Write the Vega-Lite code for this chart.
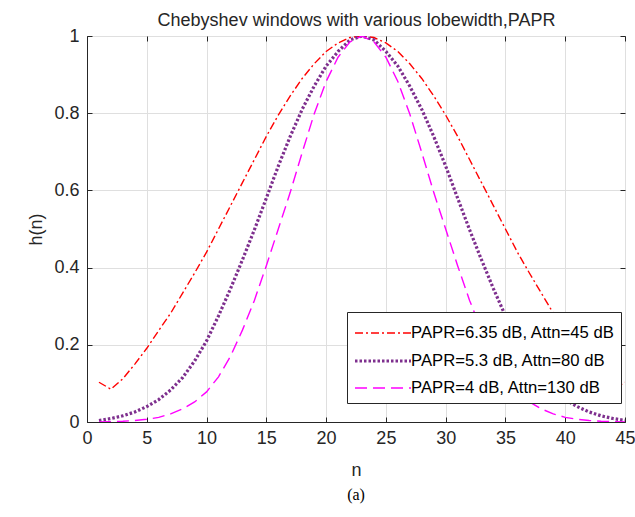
{
  "$schema": "https://vega.github.io/schema/vega-lite/v6.json",
  "width": 538,
  "height": 386,
  "autosize": {"type": "none"},
  "padding": {"left": 87, "top": 36, "right": 10, "bottom": 95},
  "background": "white",
  "title": {"text": "(a)", "orient": "bottom", "font": "Liberation Serif", "fontSize": 16, "fontWeight": "normal", "color": "#000000", "offset": 8},
  "config": {
    "view": {"stroke": "#262626", "strokeWidth": 1},
    "axis": {
      "labelFont": "Liberation Sans",
      "labelFontSize": 18,
      "labelColor": "#262626",
      "titleFont": "Liberation Sans",
      "titleFontSize": 18,
      "titleFontWeight": "normal",
      "titleColor": "#262626",
      "domainColor": "#262626",
      "tickColor": "#262626",
      "tickSize": -5,
      "gridColor": "#dfdfdf",
      "gridWidth": 1
    },
    "legend": {
      "labelFont": "Liberation Sans",
      "labelFontSize": 16.7,
      "labelColor": "#000000",
      "labelLimit": 400
    }
  },
  "data": {"values": [
    {"n":1,"h":0.103,"s":"PAPR=6.35 dB, Attn=45 dB"},
    {"n":2,"h":0.085,"s":"PAPR=6.35 dB, Attn=45 dB"},
    {"n":3,"h":0.112,"s":"PAPR=6.35 dB, Attn=45 dB"},
    {"n":4,"h":0.150,"s":"PAPR=6.35 dB, Attn=45 dB"},
    {"n":5,"h":0.191,"s":"PAPR=6.35 dB, Attn=45 dB"},
    {"n":6,"h":0.237,"s":"PAPR=6.35 dB, Attn=45 dB"},
    {"n":7,"h":0.282,"s":"PAPR=6.35 dB, Attn=45 dB"},
    {"n":8,"h":0.334,"s":"PAPR=6.35 dB, Attn=45 dB"},
    {"n":9,"h":0.386,"s":"PAPR=6.35 dB, Attn=45 dB"},
    {"n":10,"h":0.440,"s":"PAPR=6.35 dB, Attn=45 dB"},
    {"n":11,"h":0.500,"s":"PAPR=6.35 dB, Attn=45 dB"},
    {"n":12,"h":0.560,"s":"PAPR=6.35 dB, Attn=45 dB"},
    {"n":13,"h":0.620,"s":"PAPR=6.35 dB, Attn=45 dB"},
    {"n":14,"h":0.680,"s":"PAPR=6.35 dB, Attn=45 dB"},
    {"n":15,"h":0.740,"s":"PAPR=6.35 dB, Attn=45 dB"},
    {"n":16,"h":0.795,"s":"PAPR=6.35 dB, Attn=45 dB"},
    {"n":17,"h":0.845,"s":"PAPR=6.35 dB, Attn=45 dB"},
    {"n":18,"h":0.890,"s":"PAPR=6.35 dB, Attn=45 dB"},
    {"n":19,"h":0.928,"s":"PAPR=6.35 dB, Attn=45 dB"},
    {"n":20,"h":0.960,"s":"PAPR=6.35 dB, Attn=45 dB"},
    {"n":21,"h":0.982,"s":"PAPR=6.35 dB, Attn=45 dB"},
    {"n":22,"h":0.996,"s":"PAPR=6.35 dB, Attn=45 dB"},
    {"n":23,"h":1.000,"s":"PAPR=6.35 dB, Attn=45 dB"},
    {"n":24,"h":0.996,"s":"PAPR=6.35 dB, Attn=45 dB"},
    {"n":25,"h":0.982,"s":"PAPR=6.35 dB, Attn=45 dB"},
    {"n":26,"h":0.960,"s":"PAPR=6.35 dB, Attn=45 dB"},
    {"n":27,"h":0.928,"s":"PAPR=6.35 dB, Attn=45 dB"},
    {"n":28,"h":0.890,"s":"PAPR=6.35 dB, Attn=45 dB"},
    {"n":29,"h":0.845,"s":"PAPR=6.35 dB, Attn=45 dB"},
    {"n":30,"h":0.795,"s":"PAPR=6.35 dB, Attn=45 dB"},
    {"n":31,"h":0.740,"s":"PAPR=6.35 dB, Attn=45 dB"},
    {"n":32,"h":0.680,"s":"PAPR=6.35 dB, Attn=45 dB"},
    {"n":33,"h":0.620,"s":"PAPR=6.35 dB, Attn=45 dB"},
    {"n":34,"h":0.560,"s":"PAPR=6.35 dB, Attn=45 dB"},
    {"n":35,"h":0.500,"s":"PAPR=6.35 dB, Attn=45 dB"},
    {"n":36,"h":0.440,"s":"PAPR=6.35 dB, Attn=45 dB"},
    {"n":37,"h":0.386,"s":"PAPR=6.35 dB, Attn=45 dB"},
    {"n":38,"h":0.334,"s":"PAPR=6.35 dB, Attn=45 dB"},
    {"n":39,"h":0.282,"s":"PAPR=6.35 dB, Attn=45 dB"},
    {"n":40,"h":0.237,"s":"PAPR=6.35 dB, Attn=45 dB"},
    {"n":41,"h":0.191,"s":"PAPR=6.35 dB, Attn=45 dB"},
    {"n":42,"h":0.150,"s":"PAPR=6.35 dB, Attn=45 dB"},
    {"n":43,"h":0.112,"s":"PAPR=6.35 dB, Attn=45 dB"},
    {"n":44,"h":0.085,"s":"PAPR=6.35 dB, Attn=45 dB"},
    {"n":45,"h":0.103,"s":"PAPR=6.35 dB, Attn=45 dB"},
    {"n":1,"h":0.004,"s":"PAPR=5.3 dB, Attn=80 dB"},
    {"n":2,"h":0.009,"s":"PAPR=5.3 dB, Attn=80 dB"},
    {"n":3,"h":0.016,"s":"PAPR=5.3 dB, Attn=80 dB"},
    {"n":4,"h":0.026,"s":"PAPR=5.3 dB, Attn=80 dB"},
    {"n":5,"h":0.040,"s":"PAPR=5.3 dB, Attn=80 dB"},
    {"n":6,"h":0.058,"s":"PAPR=5.3 dB, Attn=80 dB"},
    {"n":7,"h":0.083,"s":"PAPR=5.3 dB, Attn=80 dB"},
    {"n":8,"h":0.115,"s":"PAPR=5.3 dB, Attn=80 dB"},
    {"n":9,"h":0.158,"s":"PAPR=5.3 dB, Attn=80 dB"},
    {"n":10,"h":0.210,"s":"PAPR=5.3 dB, Attn=80 dB"},
    {"n":11,"h":0.275,"s":"PAPR=5.3 dB, Attn=80 dB"},
    {"n":12,"h":0.345,"s":"PAPR=5.3 dB, Attn=80 dB"},
    {"n":13,"h":0.420,"s":"PAPR=5.3 dB, Attn=80 dB"},
    {"n":14,"h":0.498,"s":"PAPR=5.3 dB, Attn=80 dB"},
    {"n":15,"h":0.580,"s":"PAPR=5.3 dB, Attn=80 dB"},
    {"n":16,"h":0.663,"s":"PAPR=5.3 dB, Attn=80 dB"},
    {"n":17,"h":0.740,"s":"PAPR=5.3 dB, Attn=80 dB"},
    {"n":18,"h":0.810,"s":"PAPR=5.3 dB, Attn=80 dB"},
    {"n":19,"h":0.870,"s":"PAPR=5.3 dB, Attn=80 dB"},
    {"n":20,"h":0.922,"s":"PAPR=5.3 dB, Attn=80 dB"},
    {"n":21,"h":0.960,"s":"PAPR=5.3 dB, Attn=80 dB"},
    {"n":22,"h":0.990,"s":"PAPR=5.3 dB, Attn=80 dB"},
    {"n":23,"h":1.000,"s":"PAPR=5.3 dB, Attn=80 dB"},
    {"n":24,"h":0.990,"s":"PAPR=5.3 dB, Attn=80 dB"},
    {"n":25,"h":0.960,"s":"PAPR=5.3 dB, Attn=80 dB"},
    {"n":26,"h":0.922,"s":"PAPR=5.3 dB, Attn=80 dB"},
    {"n":27,"h":0.870,"s":"PAPR=5.3 dB, Attn=80 dB"},
    {"n":28,"h":0.810,"s":"PAPR=5.3 dB, Attn=80 dB"},
    {"n":29,"h":0.740,"s":"PAPR=5.3 dB, Attn=80 dB"},
    {"n":30,"h":0.663,"s":"PAPR=5.3 dB, Attn=80 dB"},
    {"n":31,"h":0.580,"s":"PAPR=5.3 dB, Attn=80 dB"},
    {"n":32,"h":0.498,"s":"PAPR=5.3 dB, Attn=80 dB"},
    {"n":33,"h":0.420,"s":"PAPR=5.3 dB, Attn=80 dB"},
    {"n":34,"h":0.345,"s":"PAPR=5.3 dB, Attn=80 dB"},
    {"n":35,"h":0.275,"s":"PAPR=5.3 dB, Attn=80 dB"},
    {"n":36,"h":0.210,"s":"PAPR=5.3 dB, Attn=80 dB"},
    {"n":37,"h":0.158,"s":"PAPR=5.3 dB, Attn=80 dB"},
    {"n":38,"h":0.115,"s":"PAPR=5.3 dB, Attn=80 dB"},
    {"n":39,"h":0.083,"s":"PAPR=5.3 dB, Attn=80 dB"},
    {"n":40,"h":0.058,"s":"PAPR=5.3 dB, Attn=80 dB"},
    {"n":41,"h":0.040,"s":"PAPR=5.3 dB, Attn=80 dB"},
    {"n":42,"h":0.026,"s":"PAPR=5.3 dB, Attn=80 dB"},
    {"n":43,"h":0.016,"s":"PAPR=5.3 dB, Attn=80 dB"},
    {"n":44,"h":0.009,"s":"PAPR=5.3 dB, Attn=80 dB"},
    {"n":45,"h":0.004,"s":"PAPR=5.3 dB, Attn=80 dB"},
    {"n":1,"h":0.0003,"s":"PAPR=4 dB, Attn=130 dB"},
    {"n":2,"h":0.001,"s":"PAPR=4 dB, Attn=130 dB"},
    {"n":3,"h":0.002,"s":"PAPR=4 dB, Attn=130 dB"},
    {"n":4,"h":0.004,"s":"PAPR=4 dB, Attn=130 dB"},
    {"n":5,"h":0.007,"s":"PAPR=4 dB, Attn=130 dB"},
    {"n":6,"h":0.012,"s":"PAPR=4 dB, Attn=130 dB"},
    {"n":7,"h":0.021,"s":"PAPR=4 dB, Attn=130 dB"},
    {"n":8,"h":0.034,"s":"PAPR=4 dB, Attn=130 dB"},
    {"n":9,"h":0.052,"s":"PAPR=4 dB, Attn=130 dB"},
    {"n":10,"h":0.078,"s":"PAPR=4 dB, Attn=130 dB"},
    {"n":11,"h":0.117,"s":"PAPR=4 dB, Attn=130 dB"},
    {"n":12,"h":0.170,"s":"PAPR=4 dB, Attn=130 dB"},
    {"n":13,"h":0.238,"s":"PAPR=4 dB, Attn=130 dB"},
    {"n":14,"h":0.315,"s":"PAPR=4 dB, Attn=130 dB"},
    {"n":15,"h":0.405,"s":"PAPR=4 dB, Attn=130 dB"},
    {"n":16,"h":0.500,"s":"PAPR=4 dB, Attn=130 dB"},
    {"n":17,"h":0.595,"s":"PAPR=4 dB, Attn=130 dB"},
    {"n":18,"h":0.698,"s":"PAPR=4 dB, Attn=130 dB"},
    {"n":19,"h":0.798,"s":"PAPR=4 dB, Attn=130 dB"},
    {"n":20,"h":0.882,"s":"PAPR=4 dB, Attn=130 dB"},
    {"n":21,"h":0.945,"s":"PAPR=4 dB, Attn=130 dB"},
    {"n":22,"h":0.985,"s":"PAPR=4 dB, Attn=130 dB"},
    {"n":23,"h":1.000,"s":"PAPR=4 dB, Attn=130 dB"},
    {"n":24,"h":0.985,"s":"PAPR=4 dB, Attn=130 dB"},
    {"n":25,"h":0.945,"s":"PAPR=4 dB, Attn=130 dB"},
    {"n":26,"h":0.882,"s":"PAPR=4 dB, Attn=130 dB"},
    {"n":27,"h":0.798,"s":"PAPR=4 dB, Attn=130 dB"},
    {"n":28,"h":0.698,"s":"PAPR=4 dB, Attn=130 dB"},
    {"n":29,"h":0.595,"s":"PAPR=4 dB, Attn=130 dB"},
    {"n":30,"h":0.500,"s":"PAPR=4 dB, Attn=130 dB"},
    {"n":31,"h":0.405,"s":"PAPR=4 dB, Attn=130 dB"},
    {"n":32,"h":0.315,"s":"PAPR=4 dB, Attn=130 dB"},
    {"n":33,"h":0.238,"s":"PAPR=4 dB, Attn=130 dB"},
    {"n":34,"h":0.170,"s":"PAPR=4 dB, Attn=130 dB"},
    {"n":35,"h":0.117,"s":"PAPR=4 dB, Attn=130 dB"},
    {"n":36,"h":0.078,"s":"PAPR=4 dB, Attn=130 dB"},
    {"n":37,"h":0.052,"s":"PAPR=4 dB, Attn=130 dB"},
    {"n":38,"h":0.034,"s":"PAPR=4 dB, Attn=130 dB"},
    {"n":39,"h":0.021,"s":"PAPR=4 dB, Attn=130 dB"},
    {"n":40,"h":0.012,"s":"PAPR=4 dB, Attn=130 dB"},
    {"n":41,"h":0.007,"s":"PAPR=4 dB, Attn=130 dB"},
    {"n":42,"h":0.004,"s":"PAPR=4 dB, Attn=130 dB"},
    {"n":43,"h":0.002,"s":"PAPR=4 dB, Attn=130 dB"},
    {"n":44,"h":0.001,"s":"PAPR=4 dB, Attn=130 dB"},
    {"n":45,"h":0.0003,"s":"PAPR=4 dB, Attn=130 dB"}
  ]},
  "layer": [
    {
      "mark": {"type": "line", "clip": true},
      "encoding": {
        "x": {"field": "n", "type": "quantitative",
          "scale": {"domain": [0, 45], "nice": false, "zero": false},
          "axis": {"orient": "bottom", "values": [0,5,10,15,20,25,30,35,40,45], "title": "n", "labelPadding": 12, "titlePadding": 14, "grid": true, "labelFlush": false}},
        "y": {"field": "h", "type": "quantitative",
          "scale": {"domain": [0, 1], "nice": false},
          "axis": {"orient": "left", "values": [0,0.2,0.4,0.6,0.8,1], "format": "~g", "title": "h(n)", "labelPadding": 13, "titlePadding": 8, "grid": true, "labelFlush": false}},
        "color": {"field": "s", "type": "nominal",
          "scale": {"domain": ["PAPR=6.35 dB, Attn=45 dB", "PAPR=5.3 dB, Attn=80 dB", "PAPR=4 dB, Attn=130 dB"], "range": ["#ff0000", "#7e2f8e", "#ff00ff"]},
          "legend": {"title": null, "orient": "none", "legendX": 260, "legendY": 276, "fillColor": "white", "strokeColor": "#262626", "padding": 6, "symbolType": "M-1,0H3", "symbolSize": 784, "labelOffset": 26, "rowPadding": 3, "labelLimit": 400}},
        "strokeDash": {"field": "s", "type": "nominal",
          "scale": {"domain": ["PAPR=6.35 dB, Attn=45 dB", "PAPR=5.3 dB, Attn=80 dB", "PAPR=4 dB, Attn=130 dB"], "range": [[8, 3, 2, 3], [2.5, 2], [12, 6]]},
          "legend": {"title": null, "orient": "none", "legendX": 260, "legendY": 276, "fillColor": "white", "strokeColor": "#262626", "padding": 6, "symbolType": "M-1,0H3", "symbolSize": 784, "labelOffset": 26, "rowPadding": 3, "labelLimit": 400}},
        "strokeWidth": {"field": "s", "type": "nominal",
          "scale": {"type": "ordinal", "domain": ["PAPR=6.35 dB, Attn=45 dB", "PAPR=5.3 dB, Attn=80 dB", "PAPR=4 dB, Attn=130 dB"], "range": [1.4, 3.2, 1.4]},
          "legend": {"title": null, "orient": "none", "legendX": 260, "legendY": 276, "fillColor": "white", "strokeColor": "#262626", "padding": 6, "symbolType": "M-1,0H3", "symbolSize": 784, "labelOffset": 26, "rowPadding": 3, "labelLimit": 400}}
      }
    },
    {
      "mark": {"type": "point", "opacity": 0},
      "encoding": {
        "x": {"field": "n", "type": "quantitative",
          "axis": {"orient": "top", "values": [0,5,10,15,20,25,30,35,40,45], "labels": false, "grid": false, "domain": false, "title": "Chebyshev windows with various lobewidth,PAPR", "titlePadding": 6}},
        "y": {"field": "h", "type": "quantitative",
          "axis": {"orient": "right", "values": [0,0.2,0.4,0.6,0.8,1], "labels": false, "grid": false, "domain": false, "title": null}}
      }
    }
  ],
  "resolve": {"axis": {"x": "independent", "y": "independent"}}
}
